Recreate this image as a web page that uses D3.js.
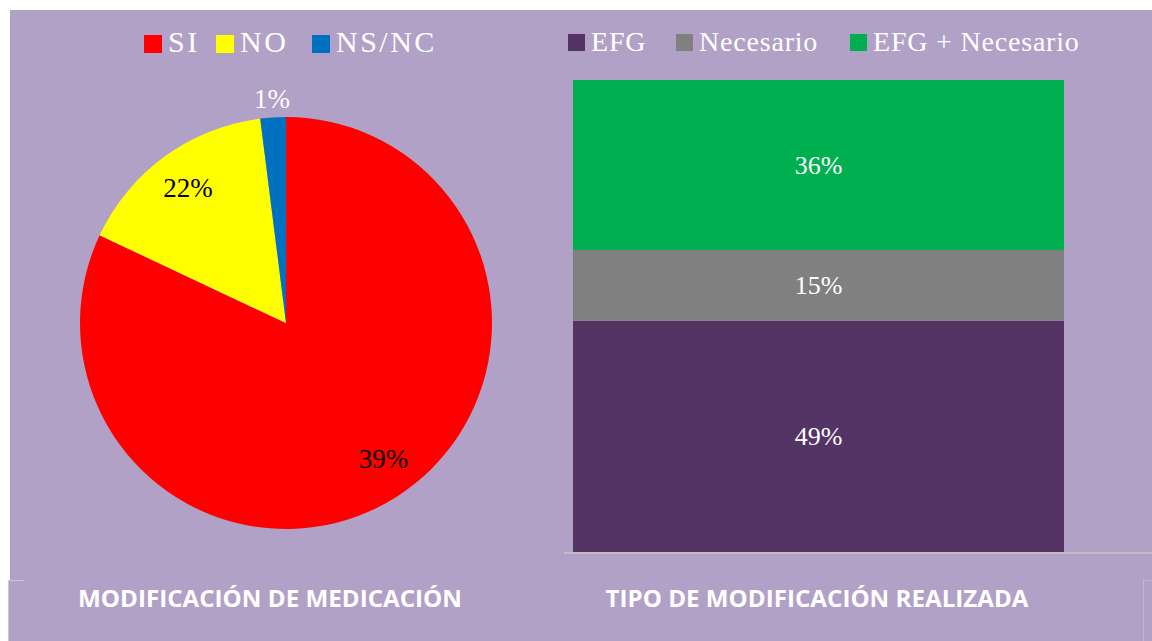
<!DOCTYPE html>
<html>
<head>
<meta charset="utf-8">
<script src="https://cdn.jsdelivr.net/npm/d3@7"></script>
<style>
  html, body { margin: 0; padding: 0; background: #fff; }
  svg { display: block; }
</style>
</head>
<body>
<div id="chart"></div>
<script>
// pie: modificación de medicación (slice sizes as drawn, labels as printed)
var pieCategories = ["SI", "NO", "NS/NC"];
var pieValues = [82, 16, 2];
var pieLabels = ["39%", "22%", "1%"];
var pieColors = ["#FF0000", "#FFFF00", "#0070C0"];

// stacked bar: tipo de modificación realizada
var barCategories = ["EFG", "Necesario", "EFG + Necesario"];
var barValues = [49, 15, 36];
var barLabels = ["49%", "15%", "36%"];
var barColors = ["#543465", "#808080", "#00B050"];

var titles = ["MODIFICACIÓN DE MEDICACIÓN", "TIPO DE MODIFICACIÓN REALIZADA"];

var W = 1152, H = 641;
var bg = "#B1A1C7";
var serif = "'Liberation Serif', 'Times New Roman', serif";

var svg = d3.select("#chart").append("svg")
  .attr("width", W)
  .attr("height", H);

// background panels
svg.append("rect").attr("x", 0).attr("y", 0).attr("width", W).attr("height", H).attr("fill", "#fff");
svg.append("rect").attr("x", 10).attr("y", 10).attr("width", W - 10).attr("height", 571).attr("fill", bg);
svg.append("rect").attr("x", 8).attr("y", 580).attr("width", W - 8).attr("height", H - 580).attr("fill", bg);
// faint cell borders
svg.append("line").attr("x1", 8).attr("x2", 24).attr("y1", 580.5).attr("y2", 580.5)
  .attr("stroke", "#CFC5DC").attr("stroke-width", 1);
svg.append("line").attr("x1", 8.5).attr("x2", 8.5).attr("y1", 580).attr("y2", H)
  .attr("stroke", "#CFC5DC").attr("stroke-width", 1);
svg.append("line").attr("x1", 1143.5).attr("x2", 1143.5).attr("y1", 580).attr("y2", H)
  .attr("stroke", "#C3B7D4").attr("stroke-width", 1);
svg.append("line").attr("x1", 1143).attr("x2", W).attr("y1", 580.5).attr("y2", 580.5)
  .attr("stroke", "#C3B7D4").attr("stroke-width", 1);

// ---------- pie ----------
var cx = 286, cy = 323, r = 206;
var pie = d3.pie().sort(null).value(function (d) { return d; });
var arcs = pie(pieValues);
var arc = d3.arc().innerRadius(0).outerRadius(r);
var labelArc = d3.arc().innerRadius(r * 0.81).outerRadius(r * 0.81);
var outerArc = d3.arc().innerRadius(r * 1.09).outerRadius(r * 1.09);

var pg = svg.append("g").attr("transform", "translate(" + cx + "," + cy + ")");
pg.selectAll("path.slice")
  .data(arcs)
  .enter().append("path")
  .attr("class", "slice")
  .attr("d", arc)
  .attr("fill", function (d, i) { return pieColors[i]; });

pg.selectAll("text.plabel")
  .data(arcs)
  .enter().append("text")
  .attr("class", "plabel")
  .attr("transform", function (d, i) {
    var c = (d.endAngle - d.startAngle) < 0.3 ? outerArc.centroid(d) : labelArc.centroid(d);
    // the big slice label sits a little further round in the original
    if (i === 0) c[0] += 8, c[1] -= 5;
    return "translate(" + c[0] + "," + c[1] + ")";
  })
  .attr("text-anchor", "middle")
  .attr("dy", "0.35em")
  .attr("font-family", serif)
  .attr("font-size", 27)
  .attr("fill", function (d) { return (d.endAngle - d.startAngle) < 0.3 ? "#fff" : "#000"; })
  .text(function (d, i) { return pieLabels[i]; });

// pie legend
var pieLegendX = [144, 216, 312];
var pl = svg.append("g").selectAll("g")
  .data(pieCategories)
  .enter().append("g")
  .attr("transform", function (d, i) { return "translate(" + pieLegendX[i] + ",35)"; });
pl.append("rect").attr("width", 18).attr("height", 18)
  .attr("fill", function (d, i) { return pieColors[i]; });
pl.append("text")
  .attr("x", 24).attr("y", 17)
  .attr("font-family", serif)
  .attr("font-size", 30)
  .attr("letter-spacing", 2.5)
  .attr("fill", "#fff")
  .text(function (d) { return d; });

// ---------- stacked bar ----------
var x = d3.scaleBand().domain(["total"]).range([573, 1064]).padding(0);
var y = d3.scaleLinear().domain([0, d3.sum(barValues)]).range([552, 80]);

var stackData = [{}];
barCategories.forEach(function (c, i) { stackData[0][c] = barValues[i]; });
var series = d3.stack().keys(barCategories)(stackData);

var bg2 = svg.append("g");
bg2.selectAll("rect.seg")
  .data(series)
  .enter().append("rect")
  .attr("class", "seg")
  .attr("x", x("total"))
  .attr("width", x.bandwidth())
  .attr("y", function (d) { return y(d[0][1]); })
  .attr("height", function (d) { return y(d[0][0]) - y(d[0][1]); })
  .attr("fill", function (d, i) { return barColors[i]; });

bg2.selectAll("text.blabel")
  .data(series)
  .enter().append("text")
  .attr("class", "blabel")
  .attr("x", x("total") + x.bandwidth() / 2)
  .attr("y", function (d) { return (y(d[0][0]) + y(d[0][1])) / 2; })
  .attr("dy", "0.35em")
  .attr("text-anchor", "middle")
  .attr("font-family", serif)
  .attr("font-size", 26)
  .attr("fill", "#fff")
  .text(function (d, i) { return barLabels[i]; });

// baseline axis
svg.append("line")
  .attr("x1", 564).attr("x2", W)
  .attr("y1", y(0) + 1).attr("y2", y(0) + 1)
  .attr("stroke", "#C2BCC6").attr("stroke-width", 2);

// bar legend
var barLegendX = [568, 676, 850];
var bl = svg.append("g").selectAll("g")
  .data(barCategories)
  .enter().append("g")
  .attr("transform", function (d, i) { return "translate(" + barLegendX[i] + ",34)"; });
bl.append("rect").attr("width", 17).attr("height", 17)
  .attr("fill", function (d, i) { return barColors[i]; });
bl.append("text")
  .attr("x", 23).attr("y", 17)
  .attr("font-family", serif)
  .attr("font-size", 28)
  .attr("letter-spacing", 0.8)
  .attr("fill", "#fff")
  .text(function (d) { return d; });

// titles
var titleX = [270, 817];
var titleW = [384, 423];
svg.selectAll("text.title")
  .data(titles)
  .enter().append("text")
  .attr("class", "title")
  .attr("x", function (d, i) { return titleX[i]; })
  .attr("y", 607)
  .attr("text-anchor", "middle")
  .attr("font-family", "'Open Sans', Arial, sans-serif")
  .attr("font-weight", "bold")
  .attr("font-size", 23)
  .attr("textLength", function (d, i) { return titleW[i]; })
  .attr("lengthAdjust", "spacingAndGlyphs")
  .attr("fill", "#fff")
  .text(function (d) { return d; });
</script>
</body>
</html>
